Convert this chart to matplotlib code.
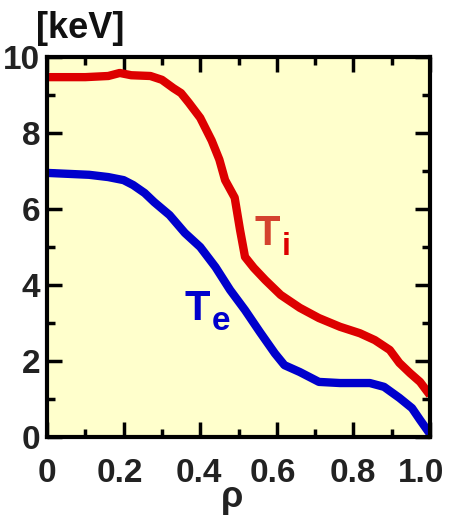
import matplotlib
matplotlib.use("Agg")
import matplotlib.pyplot as plt
from matplotlib.ticker import MultipleLocator
from matplotlib.transforms import ScaledTranslation

# Ion temperature profile
rho_i = [0.0, 0.10, 0.16, 0.19, 0.22, 0.27, 0.30, 0.33, 0.35, 0.37, 0.40, 0.43, 0.45,
         0.465, 0.49, 0.504, 0.517, 0.54, 0.57, 0.61, 0.66, 0.71, 0.765, 0.817, 0.856,
         0.895, 0.92, 0.948, 0.974, 1.0]
Ti = [9.47, 9.47, 9.5, 9.58, 9.52, 9.5, 9.4, 9.18, 9.05, 8.8, 8.4, 7.8, 7.3,
      6.76, 6.3, 5.45, 4.74, 4.45, 4.13, 3.74, 3.4, 3.13, 2.9, 2.73, 2.55,
      2.29, 1.95, 1.68, 1.45, 1.1]

# Electron temperature profile
rho_e = [0.0, 0.11, 0.16, 0.20, 0.225, 0.255, 0.28, 0.32, 0.36, 0.40, 0.44, 0.478,
         0.517, 0.556, 0.595, 0.62, 0.66, 0.71, 0.765, 0.843, 0.88, 0.92, 0.953,
         0.974, 1.0]
Te = [6.95, 6.9, 6.84, 6.76, 6.63, 6.42, 6.18, 5.84, 5.37, 5.0, 4.47, 3.87,
      3.34, 2.76, 2.2, 1.89, 1.71, 1.45, 1.42, 1.42, 1.32, 1.03, 0.76,
      0.45, 0.08]

xticks = [0.0, 0.2, 0.4, 0.6, 0.8, 1.0]
xticklabels = ["0", "0.2", "0.4", "0.6", "0.8", "1.0"]
yticks = [0, 2, 4, 6, 8, 10]

plt.rcParams['font.family'] = ['Liberation Sans', 'DejaVu Sans']

fig = plt.figure(figsize=(4.5, 5.25), dpi=100)
ax = fig.add_axes([47 / 450, 1 - 437 / 525, 383 / 450, 380 / 525])
ax.set_facecolor('#FFFFCC')

ax.plot(rho_i, Ti, color='#DD0000', lw=6, solid_capstyle='butt')
ax.plot(rho_e, Te, color='#0000CC', lw=6, solid_capstyle='butt')

ax.set_xlim(0, 1.0)
ax.set_ylim(0, 10)
ax.set_xticks(xticks)
ax.set_xticklabels(xticklabels)
ax.set_yticks(yticks)
ax.xaxis.set_minor_locator(MultipleLocator(0.1))
ax.yaxis.set_minor_locator(MultipleLocator(1))

for s in ax.spines.values():
    s.set_linewidth(3)
ax.tick_params(which='both', direction='in', top=True, right=True, width=2.5)
ax.tick_params(which='major', length=11)
ax.tick_params(which='minor', length=6)
ax.tick_params(axis='both', which='major', labelsize=24)
ax.tick_params(axis='y', which='major', pad=5)
ax.tick_params(axis='x', which='major', pad=15)
for lab in ax.get_xticklabels() + ax.get_yticklabels():
    lab.set_fontweight('bold')
    lab.set_color('#222222')

# nudge crowded x tick labels slightly left so "1.0" stays inside the figure
x_nudge_px = [0, -4, -1, -4, -1, -9]
for tick, dx in zip(ax.xaxis.get_major_ticks(), x_nudge_px):
    tick.label1.set_transform(tick.label1.get_transform()
                              + ScaledTranslation(dx / 100, 0, fig.dpi_scale_trans))

fig.text(36 / 450, 1 - 38 / 525, "[keV]", fontsize=26, fontweight='bold',
         color='#111111', ha='left', va='baseline')
fig.text(232 / 450, 1 - 507 / 525, "ρ", fontsize=26, fontweight='bold',
         color='#222222', ha='center', va='baseline')

# Curve labels
ax.text(0.543, 5.05, "T", fontsize=30, fontweight='bold', color='#D4422E',
        ha='left', va='baseline')
ax.text(0.612, 4.79, "i", fontsize=23, fontweight='bold', color='#DD0000',
        ha='left', va='baseline')
ax.text(0.36, 3.08, "T", fontsize=30, fontweight='bold', color='#0000CC',
        ha='left', va='baseline')
ax.text(0.43, 2.82, "e", fontsize=24, fontweight='bold', color='#0000CC',
        ha='left', va='baseline')

fig.savefig("out.png", dpi=100)
